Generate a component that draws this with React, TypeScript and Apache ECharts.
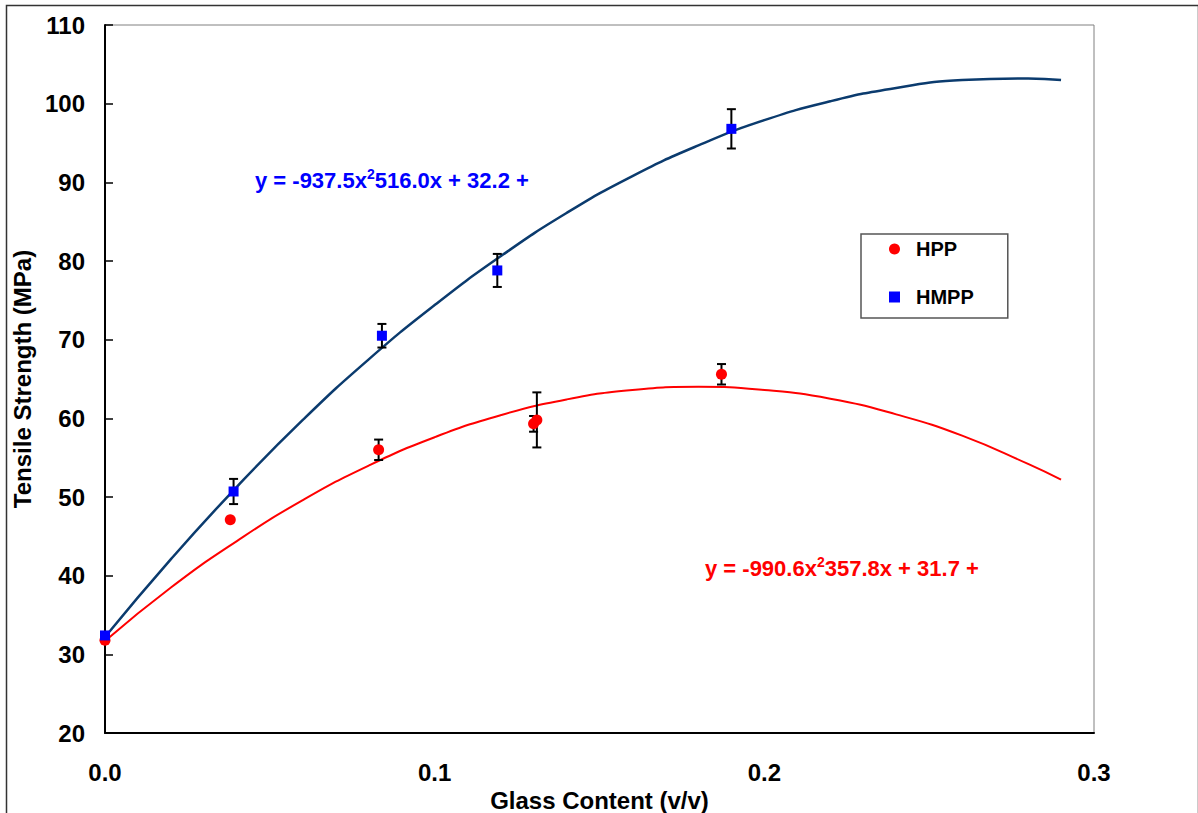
import React, { useEffect, useRef } from "react";
import * as echarts from "echarts";

// Measured points
const hppX = [0, 0.038, 0.083, 0.130, 0.131, 0.187];
const hppY = [31.8, 47.1, 56.0, 59.3, 59.8, 65.6];
const hppErr = [0, 0, 1.3, 1.0, 3.5, 1.3];

const hmppX = [0, 0.039, 0.084, 0.119, 0.190];
const hmppY = [32.4, 50.7, 70.5, 78.8, 96.8];
const hmppErr = [0, 1.6, 1.5, 2.1, 2.5];

// Trend curves
const trendX = [0, 0.02, 0.04, 0.06, 0.08, 0.10, 0.12, 0.14, 0.16, 0.18, 0.20, 0.22, 0.24, 0.26, 0.28, 0.29];
const hppTrend = [31.7, 38.5, 44.4, 49.6, 54.0, 57.6, 60.4, 62.4, 63.6, 64.0, 63.6, 62.5, 60.5, 57.8, 54.2, 52.2];
const hmppTrend = [32.2, 42.1, 51.3, 59.8, 67.5, 74.4, 80.6, 86.1, 90.8, 94.7, 97.9, 100.3, 102.0, 103.0, 103.2, 103.0];

const xTicks = { min: 0, max: 0.3, interval: 0.1 };
const yTicks = { min: 20, max: 110, interval: 10 };

const FONT = 'Arial, "Liberation Sans", sans-serif';

function errData(xs: number[], ys: number[], es: number[]) {
  const out: number[][] = [];
  xs.forEach((x, i) => {
    if (es[i] > 0) out.push([x, ys[i] - es[i], ys[i] + es[i]]);
  });
  return out;
}

function errRender(params: any, api: any) {
  const x = api.value(0);
  const lo = api.coord([x, api.value(1)]);
  const hi = api.coord([x, api.value(2)]);
  const cap = 4.5;
  const style = { stroke: "#000", lineWidth: 2 };
  return {
    type: "group",
    children: [
      { type: "line", shape: { x1: lo[0], y1: lo[1], x2: hi[0], y2: hi[1] }, style },
      { type: "line", shape: { x1: lo[0] - cap, y1: lo[1], x2: lo[0] + cap, y2: lo[1] }, style },
      { type: "line", shape: { x1: hi[0] - cap, y1: hi[1], x2: hi[0] + cap, y2: hi[1] }, style },
    ],
  };
}

export default function App() {
  const ref = useRef<HTMLDivElement>(null);
  useEffect(() => {
    if (!ref.current) return;
    const chart = echarts.init(ref.current, null, { renderer: "svg" });
    const eqRich = (color: string) => ({
      a: { fontSize: 22, fontWeight: "bold", fontFamily: FONT, fill: color, lineHeight: 26 },
      s: { fontSize: 14, fontWeight: "bold", fontFamily: FONT, fill: color, verticalAlign: "top", lineHeight: 26, padding: [0, 0, 12, 0] },
    });
    chart.setOption({
      animation: false,
      backgroundColor: "#fff",
      grid: {
        left: 105, top: 25, right: 104, bottom: 80,
        containLabel: false,
        outerBoundsMode: "none",
        show: true, borderColor: "#808080", borderWidth: 1, backgroundColor: "transparent",
      },
      xAxis: {
        type: "value",
        ...xTicks,
        name: "Glass Content (v/v)",
        nameLocation: "middle",
        nameGap: 49,
        nameTextStyle: { fontSize: 24, fontWeight: "bold", fontFamily: FONT, color: "#000" },
        axisLine: { show: true, lineStyle: { color: "#000", width: 2 } },
        axisTick: { show: false },
        splitLine: { show: false },
        axisLabel: {
          margin: 27, fontSize: 24, fontWeight: "bold", fontFamily: FONT, color: "#000",
          formatter: (v: number) => v.toFixed(1),
        },
      },
      yAxis: {
        type: "value",
        ...yTicks,
        name: "Tensile Strength (MPa)",
        nameLocation: "middle",
        nameGap: 67,
        nameTextStyle: { fontSize: 24, fontWeight: "bold", fontFamily: FONT, color: "#000" },
        axisLine: { show: true, lineStyle: { color: "#000", width: 2 } },
        axisTick: { show: true, inside: true, length: 8, lineStyle: { color: "#000", width: 1.5 } },
        splitLine: { show: false },
        axisLabel: { margin: 20, fontSize: 24, fontWeight: "bold", fontFamily: FONT, color: "#000" },
      },
      legend: {
        orient: "vertical",
        left: 861,
        top: 234,
        padding: [4, 34, 10, 28],
        borderColor: "#555",
        borderWidth: 1.5,
        backgroundColor: "#fff",
        itemWidth: 11,
        itemHeight: 11,
        itemGap: 26,
        textStyle: { fontSize: 20, fontWeight: "bold", fontFamily: FONT, color: "#000", padding: [0, 0, 0, 11], lineHeight: 22 },
        data: [
          { name: "HPP", icon: "circle" },
          { name: "HMPP", icon: "rect" },
        ],
      },
      graphic: [
        {
          type: "rect",
          left: 4, top: 3,
          shape: { width: 1192, height: 840 },
          style: { fill: "none", stroke: "#333", lineWidth: 1.5 },
          silent: true,
        },
        {
          type: "text",
          left: 255, top: 167, z: 10,
          style: { text: "{a|y = -937.5x}{s|2}{a|516.0x + 32.2 +}", rich: eqRich("#0000FF") },
        },
        {
          type: "text",
          left: 705, top: 555, z: 10,
          style: { text: "{a|y = -990.6x}{s|2}{a|357.8x + 31.7 +}", rich: eqRich("#FF0000") },
        },
      ],
      series: [
        {
          name: "HPP fit", type: "line", smooth: true, showSymbol: false, z: 1,
          lineStyle: { color: "#FF0000", width: 2 },
          data: trendX.map((x, i) => [x, hppTrend[i]]),
        },
        {
          name: "HMPP fit", type: "line", smooth: true, showSymbol: false, z: 1,
          lineStyle: { color: "#0B3B6E", width: 2.5 },
          data: trendX.map((x, i) => [x, hmppTrend[i]]),
        },
        {
          name: "HPP err", type: "custom", z: 2, renderItem: errRender,
          data: errData(hppX, hppY, hppErr), encode: { x: 0, y: [1, 2] },
        },
        {
          name: "HMPP err", type: "custom", z: 2, renderItem: errRender,
          data: errData(hmppX, hmppY, hmppErr), encode: { x: 0, y: [1, 2] },
        },
        {
          name: "HPP", type: "scatter", symbol: "circle", symbolSize: 11, z: 3,
          itemStyle: { color: "#FF0000", opacity: 1 },
          data: hppX.map((x, i) => [x, hppY[i]]),
        },
        {
          name: "HMPP", type: "scatter", symbol: "rect", symbolSize: 10, z: 3,
          itemStyle: { color: "#0000FF", opacity: 1 },
          data: hmppX.map((x, i) => [x, hmppY[i]]),
        },
      ],
    });
    return () => chart.dispose();
  }, []);
  return (
    <div
      ref={ref}
      style={{ position: "absolute", left: 0, top: 0, width: 1198, height: 813, background: "#fff" }}
    />
  );
}
